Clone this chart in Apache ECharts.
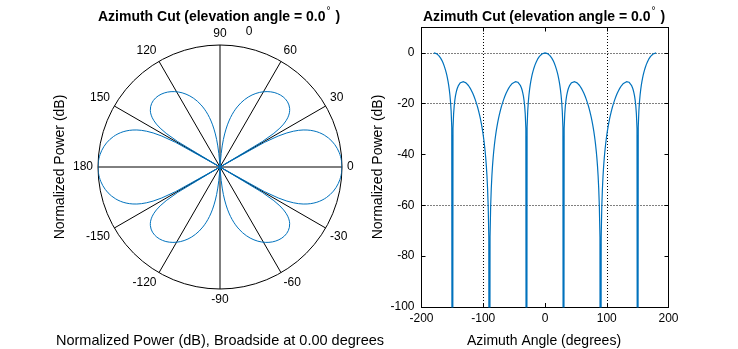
<!DOCTYPE html>
<html>
<head>
<meta charset="utf-8">
<script src="https://cdn.jsdelivr.net/npm/echarts@6/dist/echarts.min.js"></script>
<style>
  html, body { margin: 0; padding: 0; background: #ffffff; }
  #chart { width: 738px; height: 349px; }
</style>
</head>
<body>
<div id="chart"></div>
<script>
// Azimuth cut of a 4-element uniform linear array, shown as polar and rectangular plots.
const FONT = '"Liberation Sans", Arial, sans-serif';
const LINE_COLOR = '#0072BD';

// Azimuth sample grid (degrees)
const azimuthStart = -180;
const azimuthStep = 1;

// Normalized power (dB) for azimuth -180..180; -300 marks the deep nulls
const powerDb = [
  // -180 .. -90
  0, -0.02, -0.07, -0.15, -0.26, -0.41, -0.60, -0.81, -1.07, -1.36,
  -1.69, -2.06, -2.47, -2.93, -3.44, -4.00, -4.61, -5.29, -6.03, -6.85,
  -7.76, -8.78, -9.92, -11.21, -12.70, -14.45, -16.57, -19.26, -22.99, -29.24,
  -300, -29.74, -23.99, -20.76, -18.56, -16.94, -15.69, -14.70, -13.90, -13.26,
  -12.74, -12.32, -11.99, -11.73, -11.54, -11.41, -11.33, -11.30, -11.32, -11.38,
  -11.49, -11.63, -11.80, -12.01, -12.25, -12.53, -12.84, -13.18, -13.56, -13.96,
  -14.40, -14.86, -15.36, -15.89, -16.46, -17.06, -17.69, -18.37, -19.08, -19.84,
  -20.64, -21.49, -22.40, -23.36, -24.39, -25.48, -26.66, -27.93, -29.31, -30.81,
  -32.46, -34.28, -36.32, -38.63, -41.31, -44.47, -48.35, -53.34, -60.38, -72.43,
  -300,
  // -89 .. 0
  -72.43, -60.38, -53.34, -48.35, -44.47, -41.31, -38.63, -36.32, -34.28, -32.46,
  -30.81, -29.31, -27.93, -26.66, -25.48, -24.39, -23.36, -22.40, -21.49, -20.64,
  -19.84, -19.08, -18.37, -17.69, -17.06, -16.46, -15.89, -15.36, -14.86, -14.40,
  -13.96, -13.56, -13.18, -12.84, -12.53, -12.25, -12.01, -11.80, -11.63, -11.49,
  -11.38, -11.32, -11.30, -11.33, -11.41, -11.54, -11.73, -11.99, -12.32, -12.74,
  -13.26, -13.90, -14.70, -15.69, -16.94, -18.56, -20.76, -23.99, -29.74, -300,
  -29.24, -22.99, -19.26, -16.57, -14.45, -12.70, -11.21, -9.92, -8.78, -7.76,
  -6.85, -6.03, -5.29, -4.61, -4.00, -3.44, -2.93, -2.47, -2.06, -1.69,
  -1.36, -1.07, -0.81, -0.60, -0.41, -0.26, -0.15, -0.07, -0.02, 0,
  // 1 .. 90
  -0.02, -0.07, -0.15, -0.26, -0.41, -0.60, -0.81, -1.07, -1.36,
  -1.69, -2.06, -2.47, -2.93, -3.44, -4.00, -4.61, -5.29, -6.03, -6.85,
  -7.76, -8.78, -9.92, -11.21, -12.70, -14.45, -16.57, -19.26, -22.99, -29.24,
  -300, -29.74, -23.99, -20.76, -18.56, -16.94, -15.69, -14.70, -13.90, -13.26,
  -12.74, -12.32, -11.99, -11.73, -11.54, -11.41, -11.33, -11.30, -11.32, -11.38,
  -11.49, -11.63, -11.80, -12.01, -12.25, -12.53, -12.84, -13.18, -13.56, -13.96,
  -14.40, -14.86, -15.36, -15.89, -16.46, -17.06, -17.69, -18.37, -19.08, -19.84,
  -20.64, -21.49, -22.40, -23.36, -24.39, -25.48, -26.66, -27.93, -29.31, -30.81,
  -32.46, -34.28, -36.32, -38.63, -41.31, -44.47, -48.35, -53.34, -60.38, -72.43,
  -300,
  // 91 .. 180
  -72.43, -60.38, -53.34, -48.35, -44.47, -41.31, -38.63, -36.32, -34.28, -32.46,
  -30.81, -29.31, -27.93, -26.66, -25.48, -24.39, -23.36, -22.40, -21.49, -20.64,
  -19.84, -19.08, -18.37, -17.69, -17.06, -16.46, -15.89, -15.36, -14.86, -14.40,
  -13.96, -13.56, -13.18, -12.84, -12.53, -12.25, -12.01, -11.80, -11.63, -11.49,
  -11.38, -11.32, -11.30, -11.33, -11.41, -11.54, -11.73, -11.99, -12.32, -12.74,
  -13.26, -13.90, -14.70, -15.69, -16.94, -18.56, -20.76, -23.99, -29.74, -300,
  -29.24, -22.99, -19.26, -16.57, -14.45, -12.70, -11.21, -9.92, -8.78, -7.76,
  -6.85, -6.03, -5.29, -4.61, -4.00, -3.44, -2.93, -2.47, -2.06, -1.69,
  -1.36, -1.07, -0.81, -0.60, -0.41, -0.26, -0.15, -0.07, -0.02, 0
];

// Rectangular axes
const xRange = { min: -200, max: 200, step: 100 };
const yRange = { min: -100, max: 10, step: 20 };
const xGridValues = [-100, 100];
const yGridValues = [0, -20, -60];

// Polar axes: dB floor at the centre of the plot
const polarFloorDb = -50;
const polarAngleStep = 30;

const titleText = 'Azimuth Cut (elevation angle = 0.0';
const yName = 'Normalized Power (dB)';
const polarCaption = 'Normalized Power (dB), Broadside at 0.00 degrees';
const xName = 'Azimuth Angle (degrees)';

const rectData = powerDb.map((v, i) => [azimuthStart + i * azimuthStep, v]);
const polarData = powerDb.map((v, i) => [Math.max(v, polarFloorDb), azimuthStart + i * azimuthStep]);

const chart = echarts.init(document.getElementById('chart'), null, { renderer: 'canvas' });

const tickLabel = { fontFamily: FONT, fontSize: 12, color: '#000' };
const blackLine = { color: '#000', width: 1 };

function titleGraphic(cx) {
  return {
    type: 'text', x: cx, y: 15,
    style: {
      text: '{t|' + titleText + '}{d|°}{t| )}',
      align: 'center', verticalAlign: 'middle',
      rich: {
        t: { fontFamily: FONT, fontSize: 14, fontWeight: 'bold', fill: '#000', lineHeight: 18, verticalAlign: 'bottom' },
        d: { fontFamily: FONT, fontSize: 10, fill: '#000', lineHeight: 18, verticalAlign: 'top', padding: [0, 1, 6, 1] }
      }
    }
  };
}

const option = {
  backgroundColor: '#ffffff',
  animation: false,
  polar: { center: [220, 167], radius: 122 },
  angleAxis: {
    type: 'value', min: -180, max: 180, interval: polarAngleStep,
    startAngle: 180, clockwise: false,
    axisLine: { show: true, lineStyle: blackLine },
    axisTick: { show: false },
    axisLabel: {
      ...tickLabel, margin: 5,
      formatter: v => (v === -180 ? '180' : (v === 180 ? '' : String(v)))
    },
    splitLine: { show: true, lineStyle: blackLine }
  },
  radiusAxis: {
    type: 'value', min: polarFloorDb, max: 0,
    axisLine: { show: false }, axisTick: { show: false },
    axisLabel: { show: false }, splitLine: { show: false }
  },
  grid: { left: 421.5, top: 27.5, right: 69.5, bottom: 42, containLabel: false },
  xAxis: [
    {
      type: 'value', position: 'bottom', min: xRange.min, max: xRange.max, interval: xRange.step,
      axisLine: { show: true, onZero: false, lineStyle: blackLine },
      axisTick: { show: true, inside: true, length: 4, lineStyle: blackLine },
      axisLabel: { ...tickLabel, margin: 6 },
      splitLine: { show: false }
    },
    {
      type: 'value', position: 'top', min: xRange.min, max: xRange.max, interval: xRange.step,
      axisLine: { show: true, onZero: false, lineStyle: blackLine },
      axisTick: { show: true, inside: true, length: 4, lineStyle: blackLine },
      axisLabel: { show: false }, splitLine: { show: false }
    }
  ],
  yAxis: [
    {
      type: 'value', position: 'left', min: yRange.min, max: yRange.max, interval: yRange.step,
      axisLine: { show: true, onZero: false, lineStyle: blackLine },
      axisTick: { show: true, inside: true, length: 4, lineStyle: blackLine },
      axisLabel: { ...tickLabel, margin: 7, formatter: v => (v > 0 ? '' : String(v)) },
      splitLine: { show: false }
    },
    {
      type: 'value', position: 'right', min: yRange.min, max: yRange.max, interval: yRange.step,
      axisLine: { show: true, onZero: false, lineStyle: blackLine },
      axisTick: { show: true, inside: true, length: 4, lineStyle: blackLine },
      axisLabel: { show: false }, splitLine: { show: false }
    }
  ],
  series: [
    {
      type: 'line', coordinateSystem: 'polar', data: polarData,
      showSymbol: false, symbol: 'none', smooth: false,
      lineStyle: { color: LINE_COLOR, width: 1 }, z: 5
    },
    {
      type: 'line', xAxisIndex: 0, yAxisIndex: 0, data: rectData,
      showSymbol: false, symbol: 'none', smooth: false, clip: true,
      lineStyle: { color: LINE_COLOR, width: 1.2 }, z: 5,
      markLine: {
        silent: true, symbol: 'none', label: { show: false },
        lineStyle: { color: '#000', width: 1, type: [1, 2] },
        data: [
          ...xGridValues.map(x => ({ xAxis: x })),
          ...yGridValues.map(y => ({ yAxis: y }))
        ],
        z: 1
      }
    }
  ],
  graphic: [
    titleGraphic(219),
    titleGraphic(544),
    {
      type: 'text', x: 249, y: 32,
      style: { text: '0', font: '12px ' + FONT, fill: '#000', align: 'center', verticalAlign: 'middle' }
    },
    {
      type: 'text', x: 60, y: 167, rotation: Math.PI / 2,
      style: { text: yName, font: '14px ' + FONT, fill: '#000', align: 'center', verticalAlign: 'middle' }
    },
    {
      type: 'text', x: 378, y: 167, rotation: Math.PI / 2,
      style: { text: yName, font: '14px ' + FONT, fill: '#000', align: 'center', verticalAlign: 'middle' }
    },
    {
      type: 'text', x: 220, y: 341,
      style: { text: polarCaption, font: '14.5px ' + FONT, fill: '#000', align: 'center', verticalAlign: 'middle' }
    },
    {
      type: 'text', x: 544, y: 341,
      style: { text: xName, font: '14px ' + FONT, fill: '#000', align: 'center', verticalAlign: 'middle' }
    }
  ]
};

chart.setOption(option);
</script>
</body>
</html>
